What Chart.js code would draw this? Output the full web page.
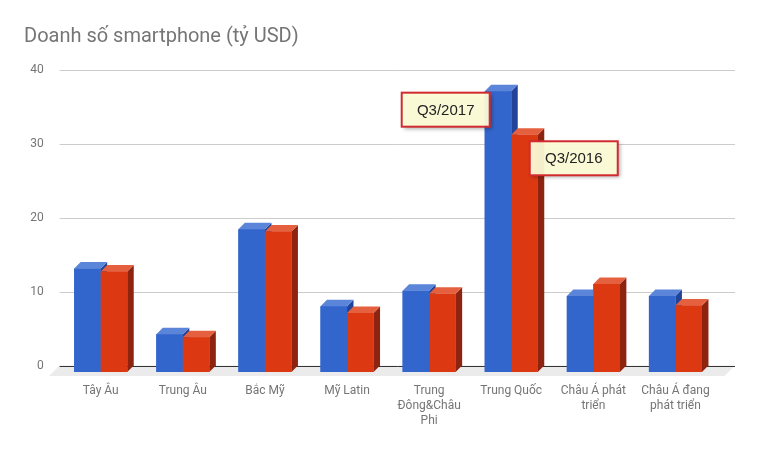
<!DOCTYPE html>
<html>
<head>
<meta charset="utf-8">
<script src="https://cdn.jsdelivr.net/npm/chart.js@4.4.1/dist/chart.umd.min.js"></script>
<style>
  html, body { margin: 0; padding: 0; background: #fff; }
</style>
</head>
<body>
<canvas id="doanhSoChart" width="757" height="450" style="width:757px;height:450px;display:block"></canvas>
<script>
// Dữ liệu (tỷ USD)
const tieuDe = "Doanh số smartphone (tỷ USD)";
const khuVuc = [["Tây Âu"], ["Trung Âu"], ["Bắc Mỹ"], ["Mỹ Latin"], ["Trung", "Đông&Châu", "Phi"],
                ["Trung Quốc"], ["Châu Á phát", "triển"], ["Châu Á đang", "phát triển"]];
const tenSeries = ["Q3/2017", "Q3/2016"];
const q3Nam2017 = [14.0, 5.1, 19.3, 8.9, 11.0, 38.0, 10.3, 10.3];
const q3Nam2016 = [13.6, 4.7, 19.0, 8.0, 10.6, 32.1, 11.9, 9.0];
const mocTrucY = [0, 10, 20, 30, 40];

// Độ sâu hiệu ứng 3D (px) và màu các mặt cột
const DO_SAU = 6.5;
const mauCot = [
    { truoc: '#3366cc', tren: '#5a85d9', ben: '#21449a' },
    { truoc: '#dc3912', tren: '#e5603e', ben: '#8e2410' }
];

// Nền, sàn và lưới vẽ ở mặt phẳng phía sau
const nen3D = {
    id: 'nen3D',
    beforeDatasetsDraw(chart) {
        const ctx = chart.ctx;
        const area = chart.chartArea;
        const y = chart.scales.y;
        const phai = area.right + 18.5;
        const day = y.getPixelForValue(0) - DO_SAU;

        ctx.save();
        // Sàn xám
        ctx.fillStyle = '#ebebeb';
        ctx.beginPath();
        ctx.moveTo(area.left, day);
        ctx.lineTo(phai, day);
        ctx.lineTo(phai - 10.5, day + 10.5);
        ctx.lineTo(area.left - 10.5, day + 10.5);
        ctx.closePath();
        ctx.fill();

        // Đường lưới
        mocTrucY.forEach(v => {
            const py = Math.round(y.getPixelForValue(v) - DO_SAU) + 0.5;
            ctx.strokeStyle = v === 0 ? '#333333' : '#cccccc';
            ctx.lineWidth = 1;
            ctx.beginPath();
            ctx.moveTo(area.left, py);
            ctx.lineTo(phai, py);
            ctx.stroke();
        });
        ctx.restore();
    },

    // Mặt trên + mặt bên cho từng cột, rồi vẽ lại mặt trước để che đúng thứ tự
    afterDatasetsDraw(chart) {
        const ctx = chart.ctx;
        const d = DO_SAU;
        const metas = chart.data.datasets.map((_, j) => chart.getDatasetMeta(j));

        ctx.save();
        for (let i = 0; i < khuVuc.length; i++) {
            metas.forEach((meta, j) => {
                const el = meta.data[i];
                const { x, y, base, width } = el.getProps(['x', 'y', 'base', 'width'], true);
                const trai = x - width / 2;
                const phai = x + width / 2;

                ctx.fillStyle = mauCot[j].ben;
                ctx.beginPath();
                ctx.moveTo(phai, y);
                ctx.lineTo(phai + d, y - d);
                ctx.lineTo(phai + d, base - d);
                ctx.lineTo(phai, base);
                ctx.closePath();
                ctx.fill();

                ctx.fillStyle = mauCot[j].tren;
                ctx.beginPath();
                ctx.moveTo(trai, y);
                ctx.lineTo(trai + d, y - d);
                ctx.lineTo(phai + d, y - d);
                ctx.lineTo(phai, y);
                ctx.closePath();
                ctx.fill();

                el.draw(ctx);
            });
        }
        ctx.restore();
    },

    afterDraw(chart) {
        const ctx = chart.ctx;
        ctx.save();

        // Tiêu đề
        ctx.fillStyle = '#757575';
        ctx.font = '20px Roboto';
        ctx.textAlign = 'left';
        ctx.textBaseline = 'alphabetic';
        ctx.fillText(tieuDe, 24, 42);

        // Hộp chú thích gắn vào cột Trung Quốc
        const idx = q3Nam2017.indexOf(Math.max(...q3Nam2017));
        const cotXanh = chart.getDatasetMeta(0).data[idx];
        const cotDo = chart.getDatasetMeta(1).data[idx];
        const w = 88, h = 34;
        const hop = [
            { ten: tenSeries[0], x: cotXanh.x - cotXanh.width / 2 + 5 - w, y: cotXanh.y + 1.5 },
            { ten: tenSeries[1], x: cotDo.x - cotDo.width / 2 + 18.5, y: cotDo.y + 6.5 }
        ];
        hop.forEach(b => {
            ctx.save();
            ctx.shadowColor = 'rgba(0,0,0,0.35)';
            ctx.shadowBlur = 4;
            ctx.shadowOffsetX = 2;
            ctx.shadowOffsetY = 2;
            ctx.fillStyle = 'rgba(255,255,217,0.93)';
            ctx.fillRect(b.x, b.y, w, h);
            ctx.restore();
            ctx.strokeStyle = '#d12a2f';
            ctx.lineWidth = 2;
            ctx.strokeRect(b.x, b.y, w, h);
            ctx.fillStyle = '#222222';
            ctx.font = '15px Arial, "Liberation Sans"';
            ctx.textAlign = 'center';
            ctx.textBaseline = 'middle';
            ctx.fillText(b.ten, b.x + w / 2, b.y + h / 2 + 1);
        });
        ctx.restore();
    }
};

const ctx = document.getElementById('doanhSoChart').getContext('2d');
new Chart(ctx, {
    type: 'bar',
    data: {
        labels: khuVuc,
        datasets: [
            { label: tenSeries[0], data: q3Nam2017, backgroundColor: mauCot[0].truoc },
            { label: tenSeries[1], data: q3Nam2016, backgroundColor: mauCot[1].truoc }
        ]
    },
    options: {
        responsive: false,
        animation: false,
        devicePixelRatio: 1,
        categoryPercentage: 0.646,
        barPercentage: 1,
        layout: { padding: { top: 76.4, right: 40.5, left: 0, bottom: 0 } },
        plugins: {
            legend: { display: false },
            title: { display: false },
            tooltip: { enabled: false }
        },
        scales: {
            x: {
                grid: { display: false, drawTicks: false },
                border: { display: false },
                ticks: {
                    color: '#757575',
                    font: { family: 'Roboto', size: 12, lineHeight: 1.25 },
                    padding: 11,
                    maxRotation: 0,
                    autoSkip: false
                },
                afterFit: s => { s.height = 78; }
            },
            y: {
                min: 0,
                max: 40,
                grid: { display: false, drawTicks: false },
                border: { display: false },
                ticks: {
                    stepSize: 10,
                    color: '#757575',
                    font: { family: 'Roboto', size: 12 },
                    padding: 16,
                    labelOffset: -DO_SAU
                },
                afterFit: s => { s.width = 59.65; }
            }
        }
    },
    plugins: [nen3D]
});
</script>
</body>
</html>
